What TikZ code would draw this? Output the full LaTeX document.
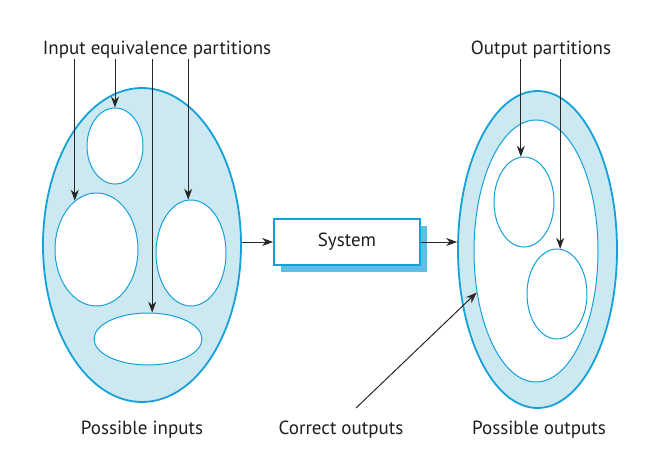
\documentclass[tikz,border=0pt]{standalone}
\usepackage{fontspec}
\setmainfont{PT Sans}
\usetikzlibrary{shapes.geometric,arrows.meta,shadows}
\definecolor{blueline}{RGB}{20,160,218}
\definecolor{bluefill}{RGB}{204,233,242}
\definecolor{shadowc}{RGB}{95,190,230}
\definecolor{txt}{RGB}{30,30,30}
\tikzset{
  outerell/.style={ellipse, draw=blueline, line width=1.8pt, fill=bluefill, inner sep=0pt},
  innerell/.style={ellipse, draw=blueline, line width=1pt, fill=white, inner sep=0pt},
  lbl/.style={text=txt, font=\fontsize{19}{22}\selectfont, inner sep=0.5pt},
  arr/.style={draw=black!85, line width=1pt, -{Stealth[length=11pt,width=8pt]}},
  sysbox/.style={rectangle, draw=blueline, line width=1.8pt, fill=white,
     minimum width=146pt, minimum height=46pt, inner sep=0pt, text=txt,
     font=\fontsize{19}{22}\selectfont,
     drop shadow={shadow xshift=7pt, shadow yshift=-7pt, fill=shadowc, opacity=1}}
}
\begin{document}
\begin{tikzpicture}[x=1pt,y=-1pt]
\useasboundingbox (0,0) rectangle (667,471);
% left: possible inputs
\node[outerell, minimum width=198pt, minimum height=314pt] (L) at (142,245) {};
\node[innerell, minimum width=56pt, minimum height=76pt] (e0) at (115,146) {};
\node[innerell, minimum width=83pt, minimum height=113pt] (e1) at (96.5,249.5) {};
\node[innerell, minimum width=70pt, minimum height=106pt] (e2) at (191,253) {};
\node[innerell, minimum width=108pt, minimum height=52pt] (e4) at (148,339) {};
% right: possible outputs
\node[outerell, minimum width=159pt, minimum height=317pt] (R) at (537.5,249.5) {};
\node[innerell, minimum width=124pt, minimum height=262pt] (Ci) at (536,251) {};
\node[innerell, minimum width=60pt, minimum height=90pt] (r1) at (524,202) {};
\node[innerell, minimum width=60pt, minimum height=90pt] (r2) at (557,294) {};
% system
\node[sysbox] (sys) at (347,242) {System};
% labels
\node[lbl] (inlbl) at (157,50) {Input equivalence partitions};
\node[lbl] (outlbl) at (541,50) {Output partitions};
\node[lbl] (pin) at (142,430) {Possible inputs};
\node[lbl] (cout) at (341,430) {Correct outputs};
\node[lbl] (pout) at (539,430) {Possible outputs};
\coordinate (cstart) at (356,408);
% arrows
\draw[arr] (inlbl.south -| e1.114) -- (e1.114);
\draw[arr] (inlbl.south -| e0.north) -- (e0.north);
\draw[arr] (inlbl.south -| e4.81) -- (e4.81);
\draw[arr] (inlbl.south -| e2.93) -- (e2.93);
\draw[arr] (outlbl.south -| r1.94) -- (r1.94);
\draw[arr] (outlbl.south -| r2.86) -- (r2.86);
\draw[arr] (sys.west -| L.east) -- (sys.west);
\draw[arr] (sys.east) -- (sys.east -| R.west);
\draw[arr] (cstart) -- (Ci.215);
\end{tikzpicture}
\end{document}
